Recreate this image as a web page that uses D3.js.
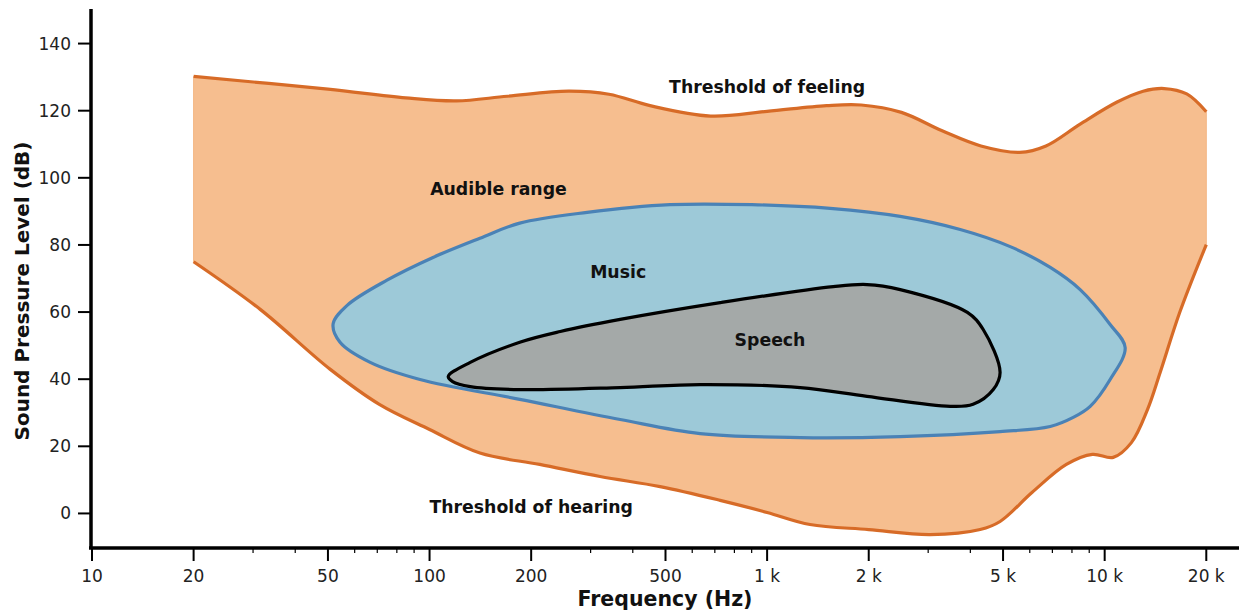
<!DOCTYPE html>
<html><head><meta charset="utf-8">
<script src="https://cdn.jsdelivr.net/npm/d3@7"></script>
<style>
body{margin:0;background:#fff;}
text{font-family:"DejaVu Sans",sans-serif;}
</style></head>
<body><svg id="c" width="1239" height="612"></svg>
<script>
// ---- data ----
const feelingFreq = [20, 50, 85, 120, 170, 258, 340, 450, 680, 1000, 1500, 1900, 2500, 3300, 4300, 5600, 6700, 8460, 10850, 13000, 15000, 17500, 20000];
const feelingDb   = [130.2, 126.4, 123.8, 122.9, 124.3, 125.8, 124.9, 121.5, 118.4, 119.8, 121.5, 121.7, 119.5, 114, 109.5, 107.6, 109.5, 116, 122.5, 125.8, 126.6, 125, 119.7];
const hearingFreq = [20, 31.5, 50.7, 71, 100, 141, 212, 320, 482, 726, 1000, 1340, 2000, 3040, 4277, 4900, 6100, 7700, 9200, 10600, 12000, 13400, 14600, 16700, 20000];
const hearingDb   = [75, 60.8, 43, 32.5, 25, 18, 14.6, 11, 8, 3.9, 0.3, -3.3, -4.8, -6.3, -4.8, -2.4, 6.3, 14.6, 17.6, 16.7, 21.1, 31, 42, 60, 80.1];
const musicFreq = [51.8, 57, 74.8, 102, 141, 185, 293, 516, 900, 1537, 2479, 3733, 5250, 6900, 8460, 10380, 11500, 10380, 9060, 8070, 6900, 4900, 2479, 1253, 633, 367, 185, 93.7, 66.7, 54.3];
const musicDb   = [56.5, 62, 69.5, 76.2, 82, 86.5, 89.7, 92, 92, 90.9, 88.5, 84.6, 79.5, 73.3, 66.7, 56.3, 49.4, 39.9, 31.9, 28.6, 25.9, 24.4, 22.9, 22.6, 23.8, 28, 34, 39.9, 45, 51];
const speechFreq = [113.6, 132, 185, 244, 367, 726, 1570, 1977, 2479, 3920, 4367, 4900, 4677, 4075, 3487, 1977, 1253, 633, 367, 185, 132, 117];
const speechDb   = [40.8, 45, 51, 54.2, 57.8, 62.8, 67.6, 68.2, 66.7, 59.9, 54.8, 42, 36.9, 32.5, 31.9, 34.9, 37.5, 38.4, 37.5, 36.9, 37.8, 39.3];
const xMajor = [10, 20, 50, 100, 200, 500, 1000, 2000, 5000, 10000, 20000];
const xMajorLabels = ["10", "20", "50", "100", "200", "500", "1 k", "2 k", "5 k", "10 k", "20 k"];
const xMinor = [30, 40, 60, 70, 80, 90, 300, 400, 600, 700, 800, 900, 3000, 4000, 6000, 7000, 8000, 9000];
const yTicks = [0, 20, 40, 60, 80, 100, 120, 140];
const labelTexts = ["Threshold of feeling", "Audible range", "Music", "Speech", "Threshold of hearing"];
const labelFreq = [1000, 160, 362, 1020, 200];
const labelDb = [127, 96.8, 71.8, 51.8, 1.8];

// ---- layout ----
const svg = d3.select("#c");
const x = d3.scaleLog().domain([10, 25000]).range([92, 1239]);
const y = d3.scaleLinear().domain([-10, 150]).range([547, 10]);

const pts = (fs, ds) => fs.map((f, i) => [x(f), y(ds[i])]);
const openLine = d3.line().curve(d3.curveCatmullRom.alpha(0.5));
const closedLine = d3.line().curve(d3.curveCatmullRomClosed.alpha(0.5));

const up = pts(feelingFreq, feelingDb);
const lo = pts(hearingFreq, hearingDb);
const upPath = openLine(up);
const loRevPath = openLine(lo.slice().reverse());
svg.append("path").attr("d", upPath + "L" + loRevPath.slice(1) + "Z")
  .attr("fill", "#f6be8f").attr("stroke", "#f3b583").attr("stroke-width", 1);
svg.append("path").attr("d", upPath).attr("fill", "none").attr("stroke", "#d76b27").attr("stroke-width", 3.2);
svg.append("path").attr("d", openLine(lo)).attr("fill", "none").attr("stroke", "#d76b27").attr("stroke-width", 3.2);

svg.append("path").attr("d", closedLine(pts(musicFreq, musicDb)))
  .attr("fill", "#9dc9d8").attr("stroke", "#4a82b6").attr("stroke-width", 3.2);
svg.append("path").attr("d", closedLine(pts(speechFreq, speechDb)))
  .attr("fill", "#a4a9a8").attr("stroke", "#000").attr("stroke-width", 3.2);

// labels
labelTexts.forEach((t, i) => {
  svg.append("text").attr("x", x(labelFreq[i])).attr("y", y(labelDb[i]))
    .attr("text-anchor", "middle").attr("dominant-baseline", "central")
    .attr("font-size", 17.3).attr("font-weight", "bold").attr("fill", "#111").text(t);
});

// axes
const gx = svg.append("g").attr("transform", "translate(0,548)");
gx.selectAll("line.minor").data(xMinor).enter().append("line")
  .attr("x1", d => x(d)).attr("x2", d => x(d)).attr("y1", 0).attr("y2", 5)
  .attr("stroke", "#000").attr("stroke-width", 1.2);
gx.selectAll("line.major").data(xMajor).enter().append("line")
  .attr("x1", d => x(d)).attr("x2", d => x(d)).attr("y1", 0).attr("y2", 13)
  .attr("stroke", "#000").attr("stroke-width", 2);
gx.selectAll("text").data(xMajor).enter().append("text")
  .attr("x", d => x(d)).attr("y", 28).attr("text-anchor", "middle")
  .attr("dominant-baseline", "central").attr("font-size", 17).attr("fill", "#222")
  .text((d, i) => xMajorLabels[i]);

const gy = svg.append("g").attr("transform", "translate(91,0)");
gy.selectAll("line").data(yTicks).enter().append("line")
  .attr("x1", -13).attr("x2", 0).attr("y1", d => y(d)).attr("y2", d => y(d))
  .attr("stroke", "#000").attr("stroke-width", 2);
gy.selectAll("text").data(yTicks).enter().append("text")
  .attr("x", -20).attr("y", d => y(d)).attr("text-anchor", "end")
  .attr("dominant-baseline", "central").attr("font-size", 17).attr("fill", "#222")
  .text(d => d);

svg.append("line").attr("x1", 91).attr("x2", 91).attr("y1", 9).attr("y2", 549)
  .attr("stroke", "#000").attr("stroke-width", 3.5);
svg.append("line").attr("x1", 89).attr("x2", 1239).attr("y1", 548).attr("y2", 548)
  .attr("stroke", "#000").attr("stroke-width", 3.5);

svg.append("text").attr("x", 665).attr("y", 599).attr("text-anchor", "middle")
  .attr("dominant-baseline", "central").attr("font-size", 20.5).attr("font-weight", "bold")
  .attr("fill", "#111").text("Frequency (Hz)");
svg.append("text").attr("transform", "translate(22,291) rotate(-90)").attr("text-anchor", "middle")
  .attr("dominant-baseline", "central").attr("font-size", 20).attr("font-weight", "bold")
  .attr("fill", "#111").text("Sound Pressure Level (dB)");
</script></body></html>
